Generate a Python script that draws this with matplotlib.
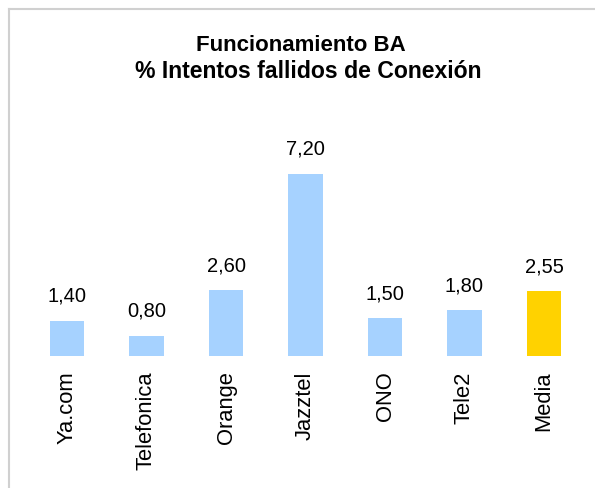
import matplotlib
matplotlib.use('Agg')
import matplotlib.pyplot as plt
from matplotlib.lines import Line2D

plt.rcParams['font.family'] = ['Liberation Sans', 'DejaVu Sans']

## data
proveedores = ['Ya.com', 'Telefonica', 'Orange', 'Jazztel', 'ONO', 'Tele2', 'Media']
fallidos = [1.40, 0.80, 2.60, 7.20, 1.50, 1.80, 2.55]
colores = ['#A6D2FF'] * 6 + ['#FFD200']

W, H = 595, 489
fig = plt.figure(figsize=(W / 100, H / 100), dpi=100)

ax = fig.add_axes([27.25 / W, (H - 357) / H, 556.5 / W, 202.4 / H])
x = list(range(len(proveedores)))
bars = ax.bar(x, fallidos, width=0.43, color=colores, linewidth=0)
for b, v in zip(bars, fallidos):
	ax.annotate(('%.2f' % v).replace('.', ','), (b.get_x() + b.get_width() / 2, v),
				xytext=(0, 11.5), textcoords='offset points',
				ha='center', va='bottom', fontsize=14.5, color='black')

ax.set_xlim(-0.5, 6.5)
ax.set_ylim(0, 8)
ax.set_xticks(x)
ax.set_xticklabels(proveedores, rotation=90, fontsize=15.8)
ax.tick_params(axis='x', length=0, pad=10.5)
ax.set_yticks([])
for s in ax.spines.values():
	s.set_visible(False)

## titles
fig.text(301 / W, 1 - 51 / H, 'Funcionamiento BA', ha='center', va='baseline',
		 fontsize=16, fontweight='bold')
fig.text(308 / W, 1 - 78 / H, '% Intentos fallidos de Conexión', ha='center', va='baseline',
		 fontsize=16.6, fontweight='bold')

## chart frame (only top and left visible)
fig.add_artist(Line2D([8.5 / W, 1.05], [1 - 9.5 / H, 1 - 9.5 / H], color='#D0D0D0', lw=1.5))
fig.add_artist(Line2D([8.5 / W, 8.5 / W], [1 - 9.5 / H, -0.05], color='#D0D0D0', lw=1.5))

fig.savefig('out.png', dpi=100)
